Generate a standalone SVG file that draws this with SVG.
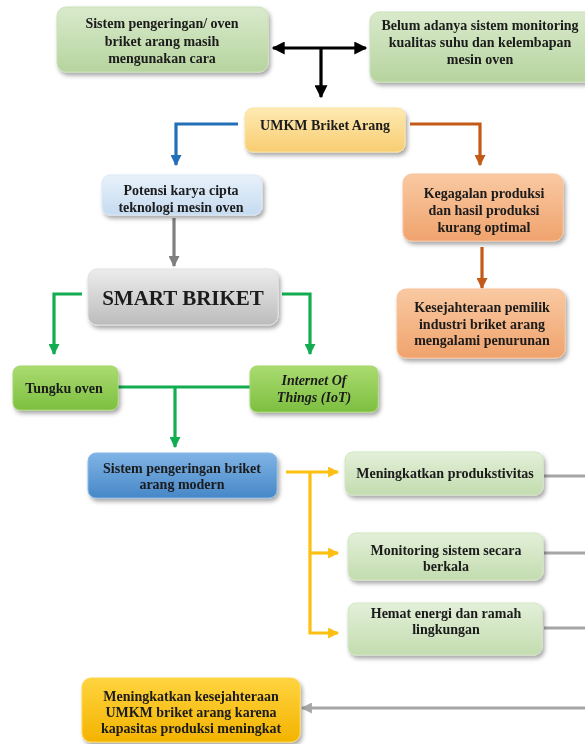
<svg xmlns="http://www.w3.org/2000/svg" width="585" height="744" viewBox="0 0 585 744">
<style>
text{font-family:"Liberation Serif","Times New Roman",serif;font-weight:bold;font-size:14px;fill:#1a1a1a;text-anchor:middle}
.big{font-size:21px}
.it{font-style:italic}
.box{filter:url(#sh)}
.c{fill:none;stroke-width:3.2;stroke-linejoin:miter}
</style>
<defs>
<filter id="sh" x="-10%" y="-20%" width="125%" height="150%">
<feDropShadow dx="2" dy="3" stdDeviation="2" flood-color="#000" flood-opacity="0.35"/>
</filter>
<linearGradient id="gLg" x1="0" y1="0" x2="0" y2="1"><stop offset="0" stop-color="#d9eacc"/><stop offset="1" stop-color="#b6d49e"/></linearGradient>
<linearGradient id="gLg2" x1="0" y1="0" x2="0" y2="1"><stop offset="0" stop-color="#e3f0d9"/><stop offset="1" stop-color="#c3dcaf"/></linearGradient>
<linearGradient id="gY" x1="0" y1="0" x2="0" y2="1"><stop offset="0" stop-color="#feeab2"/><stop offset="1" stop-color="#f8cd72"/></linearGradient>
<linearGradient id="gB" x1="0" y1="0" x2="0" y2="1"><stop offset="0" stop-color="#e8f1fa"/><stop offset="1" stop-color="#c5dbf0"/></linearGradient>
<linearGradient id="gO" x1="0" y1="0" x2="0" y2="1"><stop offset="0" stop-color="#f9c9a2"/><stop offset="1" stop-color="#f0a36d"/></linearGradient>
<linearGradient id="gG" x1="0" y1="0" x2="0" y2="1"><stop offset="0" stop-color="#ececec"/><stop offset="1" stop-color="#bcbcbc"/></linearGradient>
<linearGradient id="gGr" x1="0" y1="0" x2="0" y2="1"><stop offset="0" stop-color="#aadb70"/><stop offset="1" stop-color="#7dbf40"/></linearGradient>
<linearGradient id="gBl" x1="0" y1="0" x2="0" y2="1"><stop offset="0" stop-color="#7fb4e6"/><stop offset="1" stop-color="#4787c7"/></linearGradient>
<linearGradient id="gGo" x1="0" y1="0" x2="0" y2="1"><stop offset="0" stop-color="#ffd43f"/><stop offset="1" stop-color="#f3b300"/></linearGradient>
<marker id="aK" viewBox="0 0 10 10" refX="9" refY="5" markerUnits="userSpaceOnUse" markerWidth="14" markerHeight="13" orient="auto-start-reverse"><path d="M0,0L10,5L0,10z" fill="#000"/></marker>
<marker id="aBu" viewBox="0 0 10 10" refX="9" refY="5" markerUnits="userSpaceOnUse" markerWidth="11" markerHeight="11" orient="auto"><path d="M0,0L10,5L0,10z" fill="#2170b8"/></marker>
<marker id="aO" viewBox="0 0 10 10" refX="9" refY="5" markerUnits="userSpaceOnUse" markerWidth="11" markerHeight="11" orient="auto"><path d="M0,0L10,5L0,10z" fill="#c35a17"/></marker>
<marker id="aGy" viewBox="0 0 10 10" refX="9" refY="5" markerUnits="userSpaceOnUse" markerWidth="11" markerHeight="11" orient="auto"><path d="M0,0L10,5L0,10z" fill="#7f7f7f"/></marker>
<marker id="aGn" viewBox="0 0 10 10" refX="9" refY="5" markerUnits="userSpaceOnUse" markerWidth="11" markerHeight="11" orient="auto"><path d="M0,0L10,5L0,10z" fill="#12ad50"/></marker>
<marker id="aY" viewBox="0 0 10 10" refX="9" refY="5" markerUnits="userSpaceOnUse" markerWidth="11" markerHeight="11" orient="auto"><path d="M0,0L10,5L0,10z" fill="#fcbf12"/></marker>
<marker id="aLg" viewBox="0 0 10 10" refX="9" refY="5" markerUnits="userSpaceOnUse" markerWidth="11" markerHeight="11" orient="auto"><path d="M0,0L10,5L0,10z" fill="#a6a6a6"/></marker>
</defs>
<rect width="585" height="744" fill="#fff"/>

<g id="connectors">
<path class="c" stroke="#000" stroke-width="3.6" d="M273,48H366" marker-start="url(#aK)" marker-end="url(#aK)"/>
<path class="c" stroke="#000" stroke-width="3.6" d="M321,48V97" marker-end="url(#aK)"/>
<path class="c" stroke="#2170b8" d="M238,124H176V165" marker-end="url(#aBu)"/>
<path class="c" stroke="#c35a17" d="M410,124H480V165" marker-end="url(#aO)"/>
<path class="c" stroke="#c35a17" d="M482,247V288" marker-end="url(#aO)"/>
<path class="c" stroke="#7f7f7f" d="M174,218V266" marker-end="url(#aGy)"/>
<path class="c" stroke="#12ad50" d="M82,294H54V354" marker-end="url(#aGn)"/>
<path class="c" stroke="#12ad50" d="M282,294H310V354" marker-end="url(#aGn)"/>
<path class="c" stroke="#12ad50" d="M118,387H250"/>
<path class="c" stroke="#12ad50" d="M175,387V447" marker-end="url(#aGn)"/>
<path class="c" stroke="#fcbf12" d="M286,472H338" marker-end="url(#aY)"/>
<path class="c" stroke="#fcbf12" d="M310,472V633H338" marker-end="url(#aY)"/>
<path class="c" stroke="#fcbf12" d="M310,553H338" marker-end="url(#aY)"/>
<path class="c" stroke="#a6a6a6" d="M544,476H585"/>
<path class="c" stroke="#a6a6a6" d="M544,553H585"/>
<path class="c" stroke="#a6a6a6" d="M544,628H585"/>
<path class="c" stroke="#a6a6a6" d="M585,708H302" marker-end="url(#aLg)"/>
</g>

<g id="n1" class="box"><rect x="57" y="7" width="211" height="65" rx="9" fill="url(#gLg)" stroke="#c9e0b8"/>
<text x="162" y="28">Sistem pengeringan/ oven</text><text x="162" y="45.5">briket arang masih</text><text x="162" y="63">mengunakan cara</text></g>

<g id="n2" class="box"><rect x="370" y="12" width="225" height="70" rx="9" fill="url(#gLg)" stroke="#c9e0b8"/>
<text x="480" y="30">Belum adanya sistem monitoring</text><text x="480" y="47">kualitas suhu dan kelembapan</text><text x="480" y="64">mesin oven</text></g>

<g id="n3" class="box"><rect x="245" y="108" width="160" height="44" rx="8" fill="url(#gY)" stroke="#fbe2a0"/>
<text x="325" y="130">UMKM Briket Arang</text></g>

<g id="n4" class="box"><rect x="102" y="175" width="160" height="40" rx="8" fill="url(#gB)" stroke="#dce9f6"/>
<text x="181" y="194.5">Potensi karya cipta</text><text x="181" y="212">teknologi mesin oven</text></g>

<g id="n5" class="box"><rect x="403" y="174" width="160" height="67" rx="9" fill="url(#gO)" stroke="#f7c29b"/>
<text x="484" y="198">Kegagalan produksi</text><text x="484" y="215">dan hasil produksi</text><text x="484" y="232">kurang optimal</text></g>

<g id="n6" class="box"><rect x="397" y="289" width="168" height="69" rx="9" fill="url(#gO)" stroke="#f7c29b"/>
<text x="482" y="312">Kesejahteraan pemilik</text><text x="482" y="328.5">industri briket arang</text><text x="482" y="345">mengalami penurunan</text></g>

<g id="n7" class="box"><rect x="88" y="269" width="190" height="56" rx="9" fill="url(#gG)" stroke="#e0e0e0"/>
<text class="big" x="183" y="305">SMART BRIKET</text></g>

<g id="n8" class="box"><rect x="13" y="366" width="105" height="44" rx="7" fill="url(#gGr)" stroke="#a5d76c"/>
<text x="64" y="392.5">Tungku oven</text></g>

<g id="n9" class="box"><rect x="250" y="366" width="128" height="46" rx="7" fill="url(#gGr)" stroke="#a5d76c"/>
<text class="it" x="314" y="384.5">Internet Of</text><text class="it" x="314" y="401.5">Things (IoT)</text></g>

<g id="n10" class="box"><rect x="88" y="453" width="189" height="45" rx="8" fill="url(#gBl)" stroke="#88b9e6"/>
<text x="182" y="472.5">Sistem pengeringan briket</text><text x="182" y="488.5">arang modern</text></g>

<g id="n11" class="box"><rect x="345" y="452" width="198" height="43" rx="8" fill="url(#gLg2)" stroke="#d3e6c4"/>
<text x="445" y="477.5">Meningkatkan produkstivitas</text></g>

<g id="n12" class="box"><rect x="348" y="533" width="195" height="47" rx="8" fill="url(#gLg2)" stroke="#d3e6c4"/>
<text x="446" y="554.5">Monitoring sistem secara</text><text x="446" y="570.5">berkala</text></g>

<g id="n13" class="box"><rect x="348" y="603" width="194" height="52" rx="8" fill="url(#gLg2)" stroke="#d3e6c4"/>
<text x="446" y="617.5">Hemat energi dan ramah</text><text x="446" y="633.5">lingkungan</text></g>

<g id="n14" class="box"><rect x="82" y="678" width="218" height="64" rx="9" fill="url(#gGo)" stroke="#ffd64a"/>
<text x="191" y="701">Meningkatkan kesejahteraan</text><text x="191" y="717">UMKM briket arang karena</text><text x="191" y="732.5">kapasitas produksi meningkat</text></g>
</svg>
